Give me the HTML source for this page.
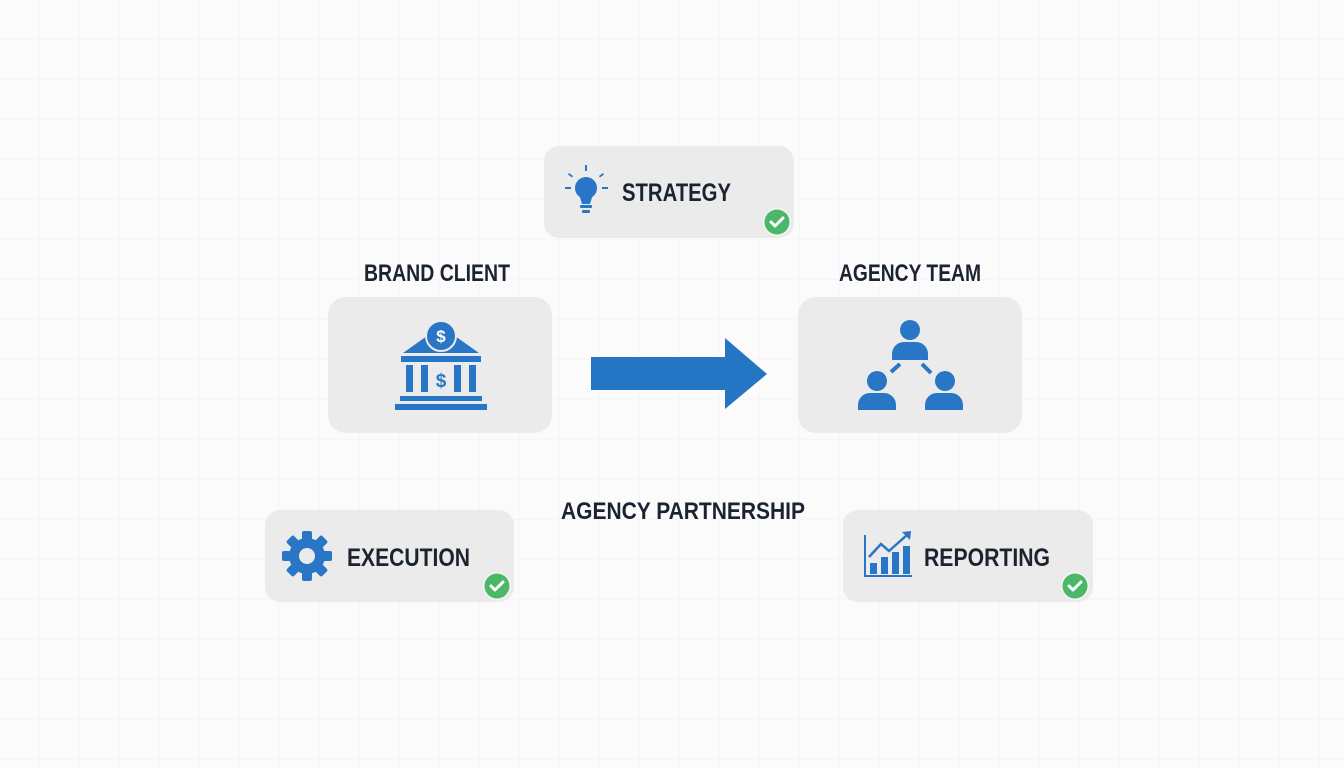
<!DOCTYPE html>
<html><head><meta charset="utf-8"><style>
html,body{margin:0;padding:0;background:#fbfbfc;}
svg{display:block}
text{font-family:"Liberation Sans",sans-serif;font-weight:bold;fill:#1b2330}
</style></head><body>
<svg width="1344" height="768" viewBox="0 0 1344 768" xmlns="http://www.w3.org/2000/svg">
<defs>
<pattern id="g" width="40" height="40" patternUnits="userSpaceOnUse">
<path d="M40 0V40M0 40H40" stroke="#f1f2f4" stroke-width="1" fill="none"/>
</pattern>
<g id="chk"><circle r="14" fill="#f5f5f5"/><circle r="12.5" fill="#4bb869"/><path d="M-6 0l4 4 8-8" stroke="#fff" stroke-width="3" fill="none" stroke-linecap="round" stroke-linejoin="round"/></g>
</defs>
<rect width="1344" height="768" fill="#fbfbfc"/>
<rect width="1344" height="768" fill="url(#g)"/>

<!-- Strategy -->
<rect x="544" y="146" width="250" height="92" rx="15" fill="#ebebeb"/>
<g fill="#2a76c6">
<circle cx="586" cy="188" r="11"/>
<path d="M579 194h14l-3 10h-8z"/>
<rect x="580" y="205" width="12" height="3" rx="1"/>
<rect x="582" y="210" width="8" height="3" rx="1"/>
<rect x="585" y="165" width="2" height="6"/>
<rect x="565" y="187" width="6" height="2"/>
<rect x="602" y="187" width="6" height="2"/>
<path d="M569 173l4 3-1 1.5-4-3zM603 173l-4 3 1 1.5 4-3z"/>
</g>
<text x="622" y="201" font-size="25" textLength="109" lengthAdjust="spacingAndGlyphs">STRATEGY</text>
<use href="#chk" x="777" y="222"/>

<!-- Brand client -->
<text x="364" y="281" font-size="24" textLength="146" lengthAdjust="spacingAndGlyphs">BRAND CLIENT</text>
<rect x="328" y="297" width="224" height="136" rx="18" fill="#ebebeb"/>
<g fill="#2a76c6">
<path d="M403 353l38-27 38 27z"/>
<rect x="401" y="356" width="80" height="6"/>
<rect x="406" y="365" width="7" height="27"/>
<rect x="421" y="365" width="7" height="27"/>
<rect x="454" y="365" width="7" height="27"/>
<rect x="469" y="365" width="7" height="27"/>
<rect x="400" y="396" width="82" height="5"/>
<rect x="395" y="404" width="92" height="6"/>
<circle cx="441" cy="336" r="15" fill="#2a76c6" stroke="#ebebeb" stroke-width="2"/>
</g>
<text x="441" y="342" font-size="17" fill="#fff" text-anchor="middle" style="fill:#fff">$</text>
<text x="441" y="387" font-size="19" text-anchor="middle" style="fill:#2a76c6">$</text>

<!-- Arrow -->
<path d="M591 357H725V338L767 374L725 409V390H591Z" fill="#2475c4"/>

<!-- Agency team -->
<text x="839" y="281" font-size="24" textLength="142" lengthAdjust="spacingAndGlyphs">AGENCY TEAM</text>
<rect x="798" y="297" width="224" height="136" rx="18" fill="#ebebeb"/>
<g fill="#2a76c6">
<circle cx="910" cy="330" r="10"/>
<path d="M892 360v-6a12 12 0 0 1 12-12h12a12 12 0 0 1 12 12v6z"/>
<circle cx="877" cy="381" r="10"/>
<path d="M858 410v-5a12 12 0 0 1 12-12h14a12 12 0 0 1 12 12v5z"/>
<circle cx="945" cy="381" r="10"/>
<path d="M925 410v-5a12 12 0 0 1 12-12h14a12 12 0 0 1 12 12v5z"/>
</g>
<path d="M900 364l-9 8M922 364l9 9" stroke="#2a76c6" stroke-width="4"/>

<!-- Agency partnership -->
<text x="561" y="519" font-size="24" textLength="244" lengthAdjust="spacingAndGlyphs">AGENCY PARTNERSHIP</text>

<!-- Execution -->
<rect x="265" y="510" width="249" height="92" rx="15" fill="#ebebeb"/>
<g transform="translate(307,556)">
<g fill="#2a76c6">
<circle r="18"/>
<rect x="-5" y="-25" width="10" height="50" rx="2"/>
<rect x="-5" y="-25" width="10" height="50" rx="2" transform="rotate(45)"/>
<rect x="-5" y="-25" width="10" height="50" rx="2" transform="rotate(90)"/>
<rect x="-5" y="-25" width="10" height="50" rx="2" transform="rotate(135)"/>
</g>
<circle r="8" fill="#ebebeb"/>
</g>
<text x="347" y="566" font-size="25" textLength="123" lengthAdjust="spacingAndGlyphs">EXECUTION</text>
<use href="#chk" x="497" y="586"/>

<!-- Reporting -->
<rect x="843" y="510" width="250" height="92" rx="15" fill="#ebebeb"/>
<g fill="#2a76c6">
<rect x="864" y="535" width="2" height="42"/>
<rect x="864" y="575" width="48" height="2"/>
<rect x="870" y="563" width="7" height="11"/>
<rect x="881" y="557" width="7" height="17"/>
<rect x="892" y="552" width="7" height="22"/>
<rect x="903" y="546" width="7" height="28"/>
</g>
<path d="M869 557l12-13 8 7 18-16" stroke="#2a76c6" stroke-width="2.5" fill="none"/>
<path d="M902 532l9-1-1 9z" fill="#2a76c6"/>
<text x="924" y="566" font-size="25" textLength="126" lengthAdjust="spacingAndGlyphs">REPORTING</text>
<use href="#chk" x="1075" y="586"/>
</svg>
</body></html>
